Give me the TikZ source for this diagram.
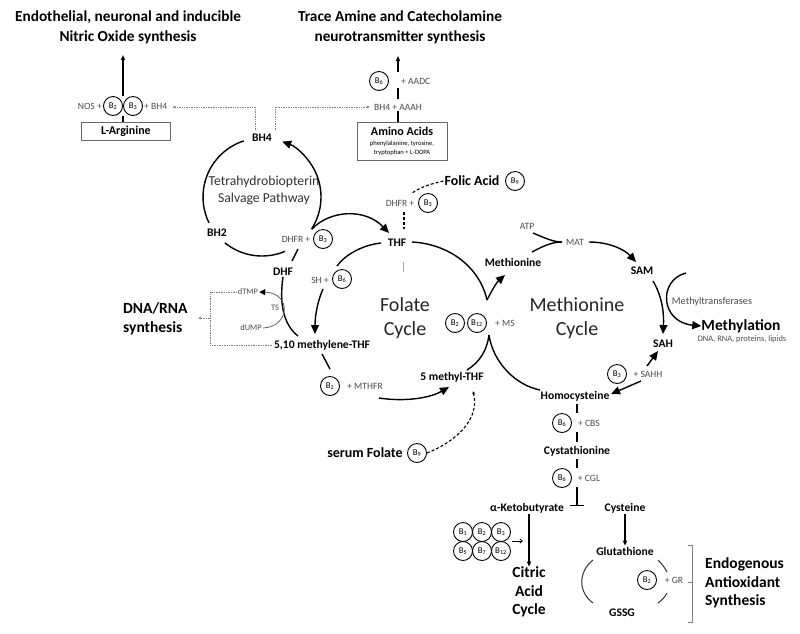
\documentclass[tikz,border=0pt]{standalone}
\usepackage{fontspec}
\setmainfont{Carlito}
\usetikzlibrary{arrows.meta,calc}
\newcommand{\Bv}[1]{B\textsubscript{#1}}
\begin{document}
\begin{tikzpicture}[x=1pt,y=-1pt,
  ttl/.style={font=\fontsize{15.3}{20}\selectfont\bfseries, align=center, inner sep=0pt},
  big/.style={font=\fontsize{15.5}{18.5}\selectfont\bfseries, align=center, inner sep=0pt},
  lbl/.style={font=\fontsize{11.6}{13}\selectfont\bfseries, inner sep=1pt},
  sm/.style={font=\fontsize{9.6}{11}\selectfont, text=black!70, inner sep=1pt},
  tinyl/.style={font=\fontsize{8.4}{9}\selectfont, text=black!70, inner sep=1pt},
  vit/.style={circle, draw, line width=0.9pt, minimum size=19pt, inner sep=0pt, font=\fontsize{8.8}{9}\selectfont},
  cyc/.style={font=\fontsize{20}{24}\selectfont, align=center, text=black!85},
  main/.style={line width=1.4pt},
  tip/.style={-{Triangle[length=9pt,width=8pt]}},
  stip/.style={-{Triangle[length=5pt,width=4pt]}},
  dot/.style={densely dotted, black!50, line width=0.7pt},
  dsh/.style={dash pattern=on 3pt off 2pt, line width=1.1pt},
  ]
\useasboundingbox[fill=white] (0,0) rectangle (800,633);

% ---------- titles
\node[ttl] (t1) at (128,27) {Endothelial, neuronal and inducible\\Nitric Oxide synthesis};
\node[ttl] (t2) at (400,27) {Trace Amine and Catecholamine\\neurotransmitter synthesis};

% ---------- NOS
\node[vit] (nb2) at (113,106) {\Bv2};
\node[vit] (nb3) at (133,106) {\Bv3};
\node[sm, anchor=east] (nos) at (nb2.west) {NOS +};
\node[sm, anchor=west] (nbh) at (nb3.east) {+ BH4};
\node[draw=black!60, minimum width=89pt, minimum height=18pt, inner sep=0pt, font=\fontsize{12}{13}\selectfont\bfseries] (larg) at (126,131) {L-Arginine};
\coordinate (nj) at (123,96);
\coordinate (ntop) at (123,55);
\draw[line width=1.2pt, stip] (nj) -- (ntop);
\coordinate (njb) at (123,116);
\draw[line width=1.2pt] (njb) -- (njb |- larg.north);

% ---------- AADC
\node[vit] (b6a) at (379,81) {\Bv6};
\node[sm, anchor=west] (aadc) at (400,81) {+ AADC};
\node[sm] (aaah) at (398,107) {BH4 + AAAH};
\node[draw=black!60, minimum width=90pt, minimum height=38pt, inner sep=0pt] (amino) at (402,141) {};
\node[font=\fontsize{12}{13}\selectfont\bfseries, inner sep=0pt] (aminot) at (402,131) {Amino Acids};
\node[font=\fontsize{6.6}{7}\selectfont, inner sep=0pt] (aminol1) at (402,144) {phenylalanine, tyrosine,};
\node[font=\fontsize{6.6}{7}\selectfont, inner sep=0pt] (aminol2) at (402,153) {tryptophan + L-DOPA};
\coordinate (aa1) at (398,72);
\coordinate (aa2) at (398,56);
\draw[line width=1.2pt, stip] (aa1) -- (aa2);
\coordinate (aa3) at (398,88);
\coordinate (aa4) at (398,99);
\draw[line width=1.2pt] (aa3) -- (aa4);
\draw[line width=1.2pt] (aaah.south -| 398,0) -- (amino.north -| 398,0);

% ---------- BH4 dotted links
\node[lbl] (bh4) at (262,138) {BH4};
\coordinate (d1a) at (255,130); \coordinate (d1b) at (255,107);
\draw[dot, -{Latex[length=3pt,width=3pt]}] (d1a) -- (d1b) -- ([xshift=4pt]nbh.east |- d1b);
\coordinate (d2a) at (275,130); \coordinate (d2b) at (275,107);
\draw[dot, -{Latex[length=3pt,width=3pt]}] (d2a) -- (d2b) -- ([xshift=-3pt]aaah.west |- d2b);

% ---------- BH salvage circle
\coordinate (bhc) at (262,197);
\node[font=\fontsize{13.7}{17}\selectfont, align=center, text=black!80] (tsp) at (264,190) {Tetrahydrobiopterin\\Salvage Pathway};
\node[lbl] (bh2) at (217,233) {BH2};
\node[sm] (dhfr1) at (296,239) {DHFR +};
\node[vit] (b3b) at (323,239) {\Bv3};
\draw[main, tip] ($(bhc)+(33:59)$) arc[start angle=33, end angle=-70, radius=59];
\draw[main] ($(bhc)+(252:59)$) arc[start angle=252, end angle=154, radius=59];
\draw[main] ($(bhc)+(129:59)$) arc[start angle=129, end angle=67, radius=59];

% ---------- THF region
\node[lbl] (thf) at (397,243) {THF};
\node[lbl] (dhf) at (283,272) {DHF};
\coordinate (dh1) at (312,229);
\coordinate (dh2) at (389,233);
\draw[main, tip] (dh1) .. controls (330,210) and (365,208) .. (dh2);
\coordinate (dh3) at (292,261);
\coordinate (dh4) at (298,249);
\draw[main] (dh3) -- (dh4);

\node[sm] (dhfr2) at (400,203) {DHFR +};
\node[vit] (b3c) at (428,203) {\Bv3};
\node[font=\fontsize{14}{15}\selectfont\bfseries, inner sep=1pt] (folic) at (472,181) {Folic Acid};
\node[vit] (b9a) at (515,181) {\Bv9};
\coordinate (fa1) at (411,194);
\draw[dsh] (folic.west) .. controls (430,184) and (418,188) .. (fa1);
\coordinate (fa2) at (404,212);
\coordinate (fa3) at (404,230);
\draw[dsh, -{Latex[length=3pt,width=3pt]}] (fa2) -- (fa3);
\coordinate (tk1) at (403,262); \coordinate (tk2) at (403,272);
\draw[black!35, line width=0.8pt] (tk1) -- (tk2);

% ---------- folate cycle
\node[cyc] (folate) at (405,318) {Folate\\Cycle};
\node[sm] (sh) at (320,280) {SH +};
\node[vit] (b6s) at (342,279) {\Bv6};
\node[lbl] (mthf) at (322,345) {5,10 methylene-THF};
\coordinate (f1) at (412,242);
\coordinate (vtop) at (487,300);
\draw[main] (f1) .. controls (450,244) and (480,268) .. (vtop);
\coordinate (f2) at (381,243);
\coordinate (f3) at (337,266);
\draw[main] (f2) .. controls (362,245) and (345,255) .. (f3);
\coordinate (f4) at (323,289);
\coordinate (f5) at (315,334);
\draw[main, tip] (f4) .. controls (318,300) and (315,315) .. (f5);
\coordinate (f6) at (322,354);
\coordinate (f7) at (330,369);
\draw[main] (f6) -- (f7);

\node[vit] (b2m) at (330,386) {\Bv2};
\node[sm] (mthfr) at (365,386) {+ MTHFR};
\node[lbl] (fmthf) at (452,377) {5 methyl-THF};
\coordinate (m1) at (379,398);
\coordinate (m2) at (449,387);
\draw[main, tip] (m1) .. controls (405,402) and (430,398) .. (m2);

\node[font=\fontsize{14}{15}\selectfont\bfseries, inner sep=1pt] (serum) at (365,453) {serum Folate};
\node[vit] (b9b) at (417,453) {\Bv9};
\coordinate (sf1) at (473,391);
\draw[dsh, -{Latex[length=3pt,width=3pt]}] (b9b.east) .. controls (455,442) and (480,420) .. (sf1);

% dTMP / dUMP
\node[tinyl] (dtmp) at (248,292) {dTMP};
\node[tinyl] (ts) at (275,308) {TS};
\node[tinyl] (dump) at (251,328) {dUMP};
\coordinate (dmf) at (298,336);
\draw[main] (dhf.south) .. controls (279,305) and (284,325) .. (dmf);
\draw[line width=0.8pt, black!60, -{Triangle[length=6pt,width=6pt,color=black]}] (dump.east) .. controls (290,327) and (292,293) .. (dtmp.east);
\node[font=\fontsize{15.5}{18.5}\selectfont\bfseries, align=left, anchor=west, inner sep=0pt] (dna) at (123,319) {DNA/RNA\\synthesis};
\coordinate (br1) at (210,292); \coordinate (br2) at (210,345);
\draw[dot] (dtmp.west) -- (br1) -- (br2) -- (mthf.west);
\coordinate (br3) at (210,318); \coordinate (br4) at (198,318);
\draw[dot, -{Latex[length=3pt,width=3pt]}] (br3) -- (br4);

% ---------- MS junction
\node[vit] (b2ms) at (455,323) {\Bv2};
\node[vit] (b12ms) at (477,323) {\Bv{12}};
\node[sm] (ms) at (505,323) {+ MS};
\node[lbl] (met) at (513,262) {Methionine};
\coordinate (vm) at (505,275);
\draw[main, tip] (vtop) .. controls (492,290) and (497,282) .. (vm);
\coordinate (vb) at (489,335);
\coordinate (vbl) at (467,370);
\coordinate (hl) at (540,390);
\draw[main] (vb) .. controls (487,350) and (480,362) .. (vbl);
\draw[main] (vb) .. controls (493,362) and (515,385) .. (hl);

% ---------- methionine cycle
\node[cyc] (metcyc) at (577,318) {Methionine\\Cycle};
\node[sm] (atp) at (527,226) {ATP};
\node[sm] (mat) at (575,242) {MAT};
\node[lbl] (sam) at (642,271) {SAM};
\node[lbl] (sah) at (663,344) {SAH};
\coordinate (mj) at (562,242);
\coordinate (atpe) at (533,233);
\coordinate (mete) at (532,252);
\draw[main] (atpe) .. controls (545,238) and (553,242) .. (mj);
\draw[main] (mete) .. controls (545,245) and (553,242) .. (mj);
\coordinate (ms1) at (589,242);
\coordinate (ms2) at (636,262);
\draw[main, tip] (ms1) .. controls (610,242) and (625,250) .. (ms2);
\coordinate (ss1) at (653,281);
\coordinate (ss2) at (663,334);
\draw[main, tip] (ss1) .. controls (663,298) and (664,315) .. (ss2);
\node[font=\fontsize{10.3}{11}\selectfont, text=black!70, inner sep=1pt] (mtr) at (712,302) {Methyltransferases};
\node[font=\fontsize{15.5}{17}\selectfont\bfseries, inner sep=0pt] (methyl) at (741,326) {Methylation};
\node[tinyl] (dnar) at (742,339) {DNA, RNA, proteins, lipids};
\coordinate (mt1) at (686,273);
\draw[main, tip] (mt1) .. controls (658,280) and (660,322) .. (methyl.west);

\node[vit] (b3s) at (617,374) {\Bv3};
\node[sm] (sahh) at (648,374) {+ SAHH};
\node[lbl] (hcy) at (575,396) {Homocysteine};
\coordinate (sh1) at (647,366); \coordinate (sh2) at (658,351);
\draw[main, tip] (sh1) -- (sh2);
\coordinate (sh3) at (641,381); \coordinate (sh4) at (611,394);
\draw[main, tip] (sh3) -- (sh4);

% ---------- transsulfuration
\node[vit] (b6c) at (562,423) {\Bv6};
\node[sm] (cbs) at (589,423) {+ CBS};
\node[lbl] (cysta) at (577,451) {Cystathionine};
\node[vit] (b6d) at (562,478) {\Bv6};
\node[sm] (cgl) at (589,478) {+ CGL};
\coordinate (c1) at (577,404); \coordinate (c2) at (577,413);
\coordinate (c3) at (577,432); \coordinate (c4) at (577,442);
\coordinate (c5) at (577,459); \coordinate (c6) at (577,468);
\coordinate (c7) at (577,487); \coordinate (c8) at (577,506);
\draw[main] (c1) -- (c2);
\draw[main] (c3) -- (c4);
\draw[main] (c5) -- (c6);
\draw[main, -{Bar[width=14pt,line width=1.4pt]}] (c7) -- (c8);

\node[lbl] (akb) at (527,508) {α-Ketobutyrate};
\node[lbl] (cys) at (625,508) {Cysteine};
\node[lbl] (glu) at (625,551) {Glutathione};
\node[lbl] (gssg) at (622,613) {GSSG};
\draw[line width=1.2pt, stip] (cys.south) -- (glu.north);
\node[big] (cac) at (529,592) {Citric\\Acid\\Cycle};
\draw[line width=1.2pt, stip] (akb.south -| 529,0) -- (cac.north -| 529,0);

% vitamin grid
\node[vit] (g1) at (463,532) {\Bv1};
\node[vit] (g2) at (482,532) {\Bv2};
\node[vit] (g3) at (501,532) {\Bv3};
\node[vit] (g5) at (463,551) {\Bv5};
\node[vit] (g7) at (482,551) {\Bv7};
\node[vit] (g12) at (501,551) {\Bv{12}};
\coordinate (ga) at (512,541); \coordinate (gb) at (523,541);
\draw[line width=0.8pt, -{Straight Barb[length=2.5pt,width=4pt]}] (ga) -- (gb);

% glutathione cycle
\coordinate (gl1) at (593,560); \coordinate (gl2) at (593,603);
\draw[line width=1pt, black!80] (gl1) .. controls (578,572) and (578,592) .. (gl2);
\coordinate (gr1) at (658,560); \coordinate (gr2) at (667,572);
\coordinate (gr3) at (667,593); \coordinate (gr4) at (658,603);
\draw[line width=1pt, black!80] (gr1) .. controls (662,564) and (665,568) .. (gr2);
\draw[line width=1pt, black!80] (gr3) .. controls (665,597) and (662,600) .. (gr4);
\node[vit] (b2g) at (647,580) {\Bv2};
\node[sm] (gr) at (674,580) {+ GR};

% bracket
\coordinate (k1) at (688,545); \coordinate (k2) at (692,545);
\coordinate (k3) at (692,622); \coordinate (k4) at (688,622);
\coordinate (k5) at (692,582); \coordinate (k6) at (688,582);
\draw[black!50, line width=0.7pt] (k1) -- (k2) -- (k3) -- (k4);
\draw[black!50, line width=0.7pt] (k5) -- (k6);
\node[big, align=left, anchor=west] (endo) at (705,583) {Endogenous\\Antioxidant\\Synthesis};

\end{tikzpicture}
\end{document}
